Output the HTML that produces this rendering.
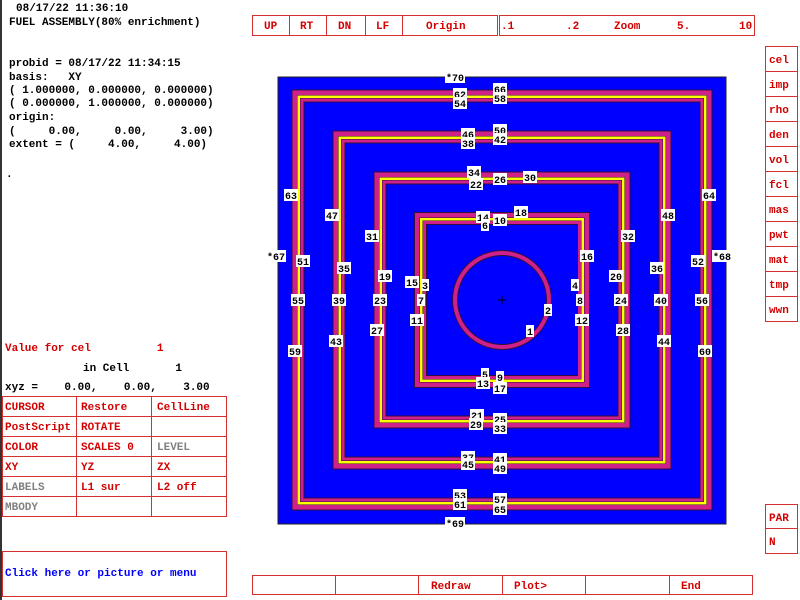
<!DOCTYPE html>
<html><head><meta charset="utf-8"><style>
html,body{margin:0;padding:0;background:#fff;}
svg{display:block;}
text{font-family:"Liberation Mono",monospace;font-weight:bold;}
</style></head><body>
<svg width="800" height="600" viewBox="0 0 800 600" xmlns="http://www.w3.org/2000/svg">
<rect x="0" y="0" width="800" height="600" fill="#fff"/>
<rect x="0" y="0" width="2" height="600" fill="#333"/>
<!-- left text -->
<g font-size="11" fill="#000">
<text x="16" y="11">08/17/22 11:36:10</text>
<text x="9" y="25">FUEL ASSEMBLY(80% enrichment)</text>
<text x="9" y="66">probid =  08/17/22 11:34:15</text>
<text x="9" y="80" xml:space="preserve">basis:   XY</text>
<text x="9" y="93">( 1.000000, 0.000000, 0.000000)</text>
<text x="9" y="106">( 0.000000, 1.000000, 0.000000)</text>
<text x="9" y="120">origin:</text>
<text x="9" y="134" xml:space="preserve">(     0.00,     0.00,     3.00)</text>
<text x="9" y="147" xml:space="preserve">extent = (     4.00,     4.00)</text>
<text x="6" y="177">.</text>
<text x="83" y="371" xml:space="preserve">in Cell       1</text>
<text x="5" y="390" xml:space="preserve">xyz =    0.00,    0.00,    3.00</text>
</g>
<g font-size="11" fill="#d40000">
<text x="5" y="351" xml:space="preserve">Value for cel          1</text>
</g>
<!-- left table -->
<g fill="none" stroke="#d43030" stroke-width="1">
<rect x="2.5" y="396.5" width="224" height="120"/>
<line x1="2" y1="416.5" x2="227" y2="416.5"/>
<line x1="2" y1="436.5" x2="227" y2="436.5"/>
<line x1="2" y1="456.5" x2="227" y2="456.5"/>
<line x1="2" y1="476.5" x2="227" y2="476.5"/>
<line x1="2" y1="496.5" x2="227" y2="496.5"/>
<line x1="76.5" y1="396" x2="76.5" y2="517"/>
<line x1="151.5" y1="396" x2="151.5" y2="517"/>
<rect x="2.5" y="551.5" width="224" height="45"/>
</g>
<g font-size="11" fill="#d40000">
<text x="5" y="410">CURSOR</text><text x="81" y="410">Restore</text><text x="157" y="410">CellLine</text>
<text x="5" y="430">PostScript</text><text x="81" y="430">ROTATE</text>
<text x="5" y="450">COLOR</text><text x="81" y="450">SCALES 0</text>
<text x="5" y="470">XY</text><text x="81" y="470">YZ</text><text x="157" y="470">ZX</text>
<text x="81" y="490">L1 sur</text><text x="157" y="490">L2 off</text>
</g>
<g font-size="11" fill="#808080">
<text x="157" y="450">LEVEL</text><text x="5" y="490">LABELS</text><text x="5" y="510">MBODY</text>
</g>
<text x="5" y="576" font-size="11" fill="#0000ff">Click here or picture or menu</text>
<!-- top bar -->
<g fill="none" stroke="#d43030">
<rect x="252.5" y="15.5" width="245" height="20"/>
<line x1="289.5" y1="15" x2="289.5" y2="36"/>
<line x1="326.5" y1="15" x2="326.5" y2="36"/>
<line x1="365.5" y1="15" x2="365.5" y2="36"/>
<line x1="402.5" y1="15" x2="402.5" y2="36"/>
<rect x="499.5" y="15.5" width="255" height="20"/>
</g>
<g font-size="11" fill="#d40000">
<text x="264" y="29">UP</text><text x="300" y="29">RT</text><text x="338" y="29">DN</text><text x="376" y="29">LF</text>
<text x="426" y="29">Origin</text>
<text x="501" y="29">.1</text><text x="566" y="29">.2</text><text x="614" y="29">Zoom</text><text x="677" y="29">5.</text><text x="739" y="29">10</text>
</g>
<!-- right menu -->
<g fill="none" stroke="#d43030">
<rect x="765.5" y="46.5" width="32" height="275"/>
<line x1="765" y1="71.5" x2="798" y2="71.5"/>
<line x1="765" y1="96.5" x2="798" y2="96.5"/>
<line x1="765" y1="121.5" x2="798" y2="121.5"/>
<line x1="765" y1="146.5" x2="798" y2="146.5"/>
<line x1="765" y1="171.5" x2="798" y2="171.5"/>
<line x1="765" y1="196.5" x2="798" y2="196.5"/>
<line x1="765" y1="221.5" x2="798" y2="221.5"/>
<line x1="765" y1="246.5" x2="798" y2="246.5"/>
<line x1="765" y1="271.5" x2="798" y2="271.5"/>
<line x1="765" y1="296.5" x2="798" y2="296.5"/>
<rect x="765.5" y="504.5" width="32" height="49"/>
<line x1="765" y1="528.5" x2="798" y2="528.5"/>
</g>
<g font-size="11" fill="#d40000">
<text x="769" y="63">cel</text><text x="769" y="88">imp</text><text x="769" y="113">rho</text><text x="769" y="138">den</text>
<text x="769" y="163">vol</text><text x="769" y="188">fcl</text><text x="769" y="213">mas</text><text x="769" y="238">pwt</text>
<text x="769" y="263">mat</text><text x="769" y="288">tmp</text><text x="769" y="313">wwn</text>
<text x="769" y="521">PAR</text><text x="769" y="545">N</text>
</g>
<!-- bottom bar -->
<g fill="none" stroke="#d43030">
<rect x="252.5" y="575.5" width="500" height="19"/>
<line x1="335.5" y1="575" x2="335.5" y2="595"/>
<line x1="418.5" y1="575" x2="418.5" y2="595"/>
<line x1="502.5" y1="575" x2="502.5" y2="595"/>
<line x1="585.5" y1="575" x2="585.5" y2="595"/>
<line x1="669.5" y1="575" x2="669.5" y2="595"/>
</g>
<g font-size="11" fill="#d40000">
<text x="431" y="589">Redraw</text><text x="514" y="589">Plot&gt;</text><text x="681" y="589">End</text>
</g>
<!-- plot -->
<rect x="278" y="77" width="448" height="447" fill="#0000ff" stroke="#222" stroke-width="1"/>
<g id="sq">
</g>
<script>
(function(){
var svg=document.querySelector('svg');var ns='http://www.w3.org/2000/svg';
var g=document.getElementById('sq');
function r(h,fill){var e=document.createElementNS(ns,'rect');e.setAttribute('x',502-h);e.setAttribute('y',300-h);e.setAttribute('width',2*h);e.setAttribute('height',2*h);e.setAttribute('fill',fill);g.appendChild(e);}
[210,169,128,87.5].forEach(function(h){
 r(h+0.5,'#301040');r(h-0.5,'#d0208a');r(h-5,'#301040');r(h-5.5,'#ffff00');r(h-8,'#301040');r(h-8.5,'#d0208a');r(h-11.5,'#301040');r(h-12.5,'#0000ff');
});
function c(rad,fill){var e=document.createElementNS(ns,'circle');e.setAttribute('cx',502);e.setAttribute('cy',300);e.setAttribute('r',rad);e.setAttribute('fill',fill);g.appendChild(e);}
c(50,'#301040');c(49,'#d0208a');c(45,'#301040');c(44,'#0000ff');
var p=document.createElementNS(ns,'path');p.setAttribute('d','M498 300H506M502 296V304');p.setAttribute('stroke','#000');g.appendChild(p);
var L=[['*70',455,77],['66',500,89],['62',460,94],['58',500,98],['54',460,103],['46',468,134],['50',500,130],['42',500,139],['38',468,143],
['34',474,172],['26',500,179],['30',530,177],['22',476,184],['14',483,217],['10',500,220],['18',521,212],['6',485,225],
['63',291,195],['47',332,215],['31',372,236],['64',709,195],['48',668,215],['32',628,236],
['*67',276,256],['51',303,261],['35',344,268],['19',385,276],['15',412,282],['3',425,285],['16',587,256],['20',616,276],['36',657,268],['52',698,261],['*68',722,256],['4',575,285],
['55',298,300],['39',339,300],['23',380,300],['7',421,300],['8',580,300],['24',621,300],['40',661,300],['56',702,300],
['11',417,320],['12',582,320],['2',548,310],['1',530,331],['27',377,330],['28',623,330],['43',336,341],['44',664,341],['59',295,351],['60',705,351],
['5',485,374],['9',500,377],['13',483,383],['17',500,388],['21',477,415],['25',500,419],['29',476,424],['33',500,428],
['37',468,457],['41',500,459],['45',468,464],['49',500,468],['53',460,495],['57',500,499],['61',460,504],['65',500,509],['*69',455,523]];
L.forEach(function(a){var w=a[0].length*6+2;var b=document.createElementNS(ns,'rect');b.setAttribute('x',a[1]-w/2);b.setAttribute('y',a[2]-6);b.setAttribute('width',w);b.setAttribute('height',12);b.setAttribute('fill','#fff');g.appendChild(b);
var t=document.createElementNS(ns,'text');t.setAttribute('x',a[1]);t.setAttribute('y',a[2]+4);t.setAttribute('text-anchor','middle');t.setAttribute('font-size','10');t.setAttribute('fill','#000');t.textContent=a[0];g.appendChild(t);});
})();
</script>
</svg>
</body></html>
